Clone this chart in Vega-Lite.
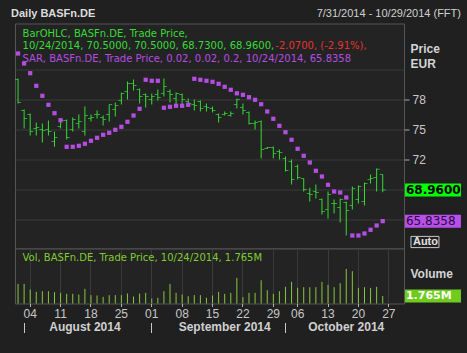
{
"$schema": "https://vega.github.io/schema/vega-lite/v6.json",
"background": "#202020",
"padding": {"left": 10, "top": 6.5, "right": 0, "bottom": 21},
"spacing": 0,
"bounds": "flush",
"config": {
 "view": {"stroke": "#555555", "fill": "#232323", "strokeWidth": 1},
 "axis": {"labelFont": "Liberation Sans", "titleFont": "Liberation Sans", "labelColor": "#c8c8c8", "titleColor": "#d4d4d4", "gridColor": "#3a3a3a", "gridOpacity": 1, "domain": false},
 "text": {"font": "DejaVu Sans"}
},
"datasets": {"bars": [
{"date":"2014-07-31","o":80.0,"h":80.1,"l":77.6,"c":77.7,"sar":82.6,"vol":4620000},
{"date":"2014-08-01","o":76.9,"h":77.0,"l":75.1,"c":76.1,"sar":81.6,"vol":4620000},
{"date":"2014-08-04","o":76.5,"h":76.6,"l":74.4,"c":74.8,"sar":80.63,"vol":3290000},
{"date":"2014-08-05","o":75.1,"h":75.7,"l":74.4,"c":75.2,"sar":79.37,"vol":2740000},
{"date":"2014-08-06","o":75.0,"h":75.6,"l":73.7,"c":74.9,"sar":78.37,"vol":2900000},
{"date":"2014-08-07","o":75.0,"h":75.9,"l":74.4,"c":74.8,"sar":77.47,"vol":2900000},
{"date":"2014-08-08","o":73.8,"h":74.8,"l":73.27,"c":74.2,"sar":76.63,"vol":2660000},
{"date":"2014-08-11","o":75.3,"h":76.0,"l":75.1,"c":75.9,"sar":75.93,"vol":2510000},
{"date":"2014-08-12","o":75.9,"h":76.0,"l":74.0,"c":74.2,"sar":73.27,"vol":2270000},
{"date":"2014-08-13","o":75.0,"h":76.2,"l":74.8,"c":76.0,"sar":73.27,"vol":2270000},
{"date":"2014-08-14","o":75.6,"h":76.5,"l":75.1,"c":75.8,"sar":73.37,"vol":2110000},
{"date":"2014-08-15","o":74.8,"h":77.3,"l":74.4,"c":76.4,"sar":73.57,"vol":3450000},
{"date":"2014-08-18","o":76.1,"h":76.5,"l":75.8,"c":76.2,"sar":73.87,"vol":1960000},
{"date":"2014-08-19","o":76.5,"h":76.9,"l":76.1,"c":76.5,"sar":74.17,"vol":1880000},
{"date":"2014-08-20","o":76.2,"h":76.4,"l":75.4,"c":76.0,"sar":74.47,"vol":1570000},
{"date":"2014-08-21","o":76.5,"h":77.5,"l":75.8,"c":77.5,"sar":74.67,"vol":1960000},
{"date":"2014-08-22","o":77.0,"h":77.7,"l":76.3,"c":77.4,"sar":74.97,"vol":1960000},
{"date":"2014-08-25","o":77.9,"h":78.7,"l":77.5,"c":78.6,"sar":75.27,"vol":1960000},
{"date":"2014-08-26","o":78.8,"h":79.8,"l":78.0,"c":79.6,"sar":75.77,"vol":2350000},
{"date":"2014-08-27","o":79.6,"h":80.0,"l":78.9,"c":79.4,"sar":76.4,"vol":1640000},
{"date":"2014-08-28","o":79.0,"h":79.1,"l":77.6,"c":78.3,"sar":77.07,"vol":2350000},
{"date":"2014-08-29","o":78.5,"h":78.6,"l":77.2,"c":78.3,"sar":79.97,"vol":2510000},
{"date":"2014-09-01","o":78.0,"h":78.6,"l":77.5,"c":78.3,"sar":79.87,"vol":1170000},
{"date":"2014-09-02","o":78.5,"h":79.0,"l":77.9,"c":78.2,"sar":79.87,"vol":1330000},
{"date":"2014-09-03","o":78.6,"h":80.1,"l":78.3,"c":79.3,"sar":77.17,"vol":2900000},
{"date":"2014-09-04","o":78.8,"h":79.0,"l":77.7,"c":78.5,"sar":77.27,"vol":4620000},
{"date":"2014-09-05","o":78.1,"h":78.7,"l":77.5,"c":78.6,"sar":77.37,"vol":2510000},
{"date":"2014-09-08","o":78.5,"h":78.6,"l":77.4,"c":78.0,"sar":77.37,"vol":2110000},
{"date":"2014-09-09","o":77.8,"h":78.1,"l":77.3,"c":77.6,"sar":77.47,"vol":1720000},
{"date":"2014-09-10","o":77.5,"h":78.0,"l":76.9,"c":77.4,"sar":80.07,"vol":1960000},
{"date":"2014-09-11","o":77.8,"h":77.9,"l":76.8,"c":77.1,"sar":79.97,"vol":1960000},
{"date":"2014-09-12","o":77.3,"h":77.6,"l":76.8,"c":77.2,"sar":79.87,"vol":1330000},
{"date":"2014-09-15","o":77.1,"h":77.3,"l":76.7,"c":76.9,"sar":79.77,"vol":1880000},
{"date":"2014-09-16","o":76.5,"h":76.6,"l":75.7,"c":76.2,"sar":79.57,"vol":2740000},
{"date":"2014-09-17","o":76.5,"h":76.8,"l":76.4,"c":76.6,"sar":79.27,"vol":2270000},
{"date":"2014-09-18","o":76.4,"h":76.8,"l":76.3,"c":76.6,"sar":78.97,"vol":2510000},
{"date":"2014-09-19","o":77.5,"h":78.1,"l":77.1,"c":78.0,"sar":78.62,"vol":6030000},
{"date":"2014-09-22","o":77.2,"h":77.6,"l":76.5,"c":76.9,"sar":78.47,"vol":1490000},
{"date":"2014-09-23","o":76.7,"h":76.8,"l":75.5,"c":75.6,"sar":78.23,"vol":2510000},
{"date":"2014-09-24","o":75.6,"h":75.9,"l":75.0,"c":75.7,"sar":77.97,"vol":2510000},
{"date":"2014-09-25","o":75.8,"h":75.9,"l":72.1,"c":73.0,"sar":77.53,"vol":5480000},
{"date":"2014-09-26","o":73.1,"h":73.25,"l":73.05,"c":73.2,"sar":76.8,"vol":3130000},
{"date":"2014-09-29","o":73.2,"h":73.3,"l":72.1,"c":72.6,"sar":76.07,"vol":2270000},
{"date":"2014-09-30","o":72.8,"h":73.0,"l":72.0,"c":72.7,"sar":75.37,"vol":2900000},
{"date":"2014-10-01","o":72.1,"h":72.3,"l":70.8,"c":70.9,"sar":74.73,"vol":3920000},
{"date":"2014-10-02","o":71.8,"h":72.0,"l":69.5,"c":70.0,"sar":73.97,"vol":5090000},
{"date":"2014-10-06","o":71.3,"h":71.5,"l":70.0,"c":70.2,"sar":73.07,"vol":3680000},
{"date":"2014-10-07","o":70.1,"h":70.13,"l":68.8,"c":69.0,"sar":72.37,"vol":3840000},
{"date":"2014-10-08","o":68.6,"h":69.17,"l":67.8,"c":68.5,"sar":71.7,"vol":3840000},
{"date":"2014-10-09","o":68.8,"h":69.5,"l":68.1,"c":68.7,"sar":70.87,"vol":3840000},
{"date":"2014-10-10","o":68.0,"h":68.1,"l":66.5,"c":66.8,"sar":70.3,"vol":5090000},
{"date":"2014-10-13","o":67.0,"h":68.8,"l":66.1,"c":68.5,"sar":69.47,"vol":4380000},
{"date":"2014-10-14","o":67.6,"h":68.0,"l":66.6,"c":67.6,"sar":68.8,"vol":3840000},
{"date":"2014-10-15","o":67.2,"h":68.1,"l":65.7,"c":68.0,"sar":68.7,"vol":4780000},
{"date":"2014-10-16","o":67.7,"h":67.8,"l":64.4,"c":66.9,"sar":68.2,"vol":8140000},
{"date":"2014-10-17","o":67.4,"h":69.3,"l":67.0,"c":69.1,"sar":64.4,"vol":7600000},
{"date":"2014-10-20","o":68.0,"h":69.4,"l":67.6,"c":69.3,"sar":64.4,"vol":3680000},
{"date":"2014-10-21","o":67.8,"h":69.7,"l":67.4,"c":69.6,"sar":64.6,"vol":3840000},
{"date":"2014-10-22","o":70.0,"h":70.5,"l":69.6,"c":70.1,"sar":64.97,"vol":3680000},
{"date":"2014-10-23","o":70.2,"h":71.1,"l":68.8,"c":71.03,"sar":65.4,"vol":3920000},
{"date":"2014-10-24","o":70.5,"h":70.5,"l":68.73,"c":68.96,"sar":65.8358,"vol":1765000}
]},
"vconcat": [
{
 "width": 389, "height": 225,
 "data": {"name": "bars"},
 "resolve": {"axis": {"y": "independent"}},
 "layer": [
  {"mark": {"type": "rule", "color": "#33dd33", "strokeWidth": 1},
   "encoding": {
    "x": {"field": "date", "type": "ordinal", "scale": {"type": "band", "paddingInner": 0, "paddingOuter": 0, "domain": ["2014-07-31","2014-08-01","2014-08-04","2014-08-05","2014-08-06","2014-08-07","2014-08-08","2014-08-11","2014-08-12","2014-08-13","2014-08-14","2014-08-15","2014-08-18","2014-08-19","2014-08-20","2014-08-21","2014-08-22","2014-08-25","2014-08-26","2014-08-27","2014-08-28","2014-08-29","2014-09-01","2014-09-02","2014-09-03","2014-09-04","2014-09-05","2014-09-08","2014-09-09","2014-09-10","2014-09-11","2014-09-12","2014-09-15","2014-09-16","2014-09-17","2014-09-18","2014-09-19","2014-09-22","2014-09-23","2014-09-24","2014-09-25","2014-09-26","2014-09-29","2014-09-30","2014-10-01","2014-10-02","2014-10-06","2014-10-07","2014-10-08","2014-10-09","2014-10-10","2014-10-13","2014-10-14","2014-10-15","2014-10-16","2014-10-17","2014-10-20","2014-10-21","2014-10-22","2014-10-23","2014-10-24","2014-10-27","2014-10-28","2014-10-29"]},
      "axis": {"values": ["2014-08-04","2014-08-11","2014-08-18","2014-08-25","2014-09-01","2014-09-08","2014-09-15","2014-09-22","2014-09-29","2014-10-06","2014-10-13","2014-10-20","2014-10-27"], "grid": true, "labels": false, "ticks": false, "domain": false, "title": null, "bandPosition": 0.5}},
    "y": {"field": "l", "type": "quantitative", "scale": {"domain": [63.1, 85.6], "nice": false, "zero": false},
      "axis": {"orient": "right", "values": [66, 69, 72, 75, 78, 81], "grid": true, "domain": false, "tickSize": 5,
        "tickColor": {"condition": {"test": "datum.value >= 72 && datum.value <= 78", "value": "#aaaaaa"}, "value": "transparent"},
        "labelExpr": "datum.value >= 72 && datum.value <= 78 ? datum.label : ''", "format": "d",
        "labelPadding": 3, "labelFontSize": 12,
        "title": ["Price", "EUR"], "titleAngle": 0, "titleAlign": "left", "titleBaseline": "alphabetic", "titleX": 6, "titleY": 29, "titleLineHeight": 15, "titleFontSize": 12, "titleFontWeight": "bold"}},
    "y2": {"field": "h"}
   }},
  {"mark": {"type": "tick", "color": "#33dd33", "size": 3, "thickness": 1, "xOffset": -1.5},
   "encoding": {
    "x": {"field": "date", "type": "ordinal", "axis": null},
    "y": {"field": "o", "type": "quantitative", "axis": null}
   }},
  {"mark": {"type": "tick", "color": "#33dd33", "size": 3, "thickness": 1, "xOffset": 1.5},
   "encoding": {
    "x": {"field": "date", "type": "ordinal", "axis": null},
    "y": {"field": "c", "type": "quantitative", "axis": null}
   }},
  {"mark": {"type": "square", "size": 18, "color": "#b34ee0", "opacity": 1},
   "encoding": {
    "x": {"field": "date", "type": "ordinal", "axis": null},
    "y": {"field": "sar", "type": "quantitative", "axis": null}
   }},
  {"transform": [{"filter": "datum.date == '2014-10-24'"}],
   "layer": [
    {"mark": {"type": "rule", "color": "#00ff00", "strokeWidth": 13, "strokeCap": "butt", "xOffset": 4, "x2Offset": 60},
     "encoding": {"x": {"datum": "2014-10-29", "type": "ordinal", "axis": null}, "x2": {"datum": "2014-10-29"}, "y": {"field": "c", "type": "quantitative", "axis": null}}},
    {"mark": {"type": "text", "align": "left", "baseline": "middle", "dx": 5, "font": "DejaVu Sans", "fontSize": 12, "fontWeight": "bold", "color": "#000000"},
     "encoding": {"x": {"datum": "2014-10-29", "type": "ordinal", "axis": null}, "y": {"field": "c", "type": "quantitative", "axis": null}, "text": {"field": "c", "type": "quantitative", "format": ".4f"}}},
    {"mark": {"type": "rule", "color": "#b84fe8", "strokeWidth": 13, "strokeCap": "butt", "xOffset": 4, "x2Offset": 60},
     "encoding": {"x": {"datum": "2014-10-29", "type": "ordinal", "axis": null}, "x2": {"datum": "2014-10-29"}, "y": {"field": "sar", "type": "quantitative", "axis": null}}},
    {"mark": {"type": "text", "align": "left", "baseline": "middle", "dx": 5, "font": "DejaVu Sans", "fontSize": 12, "color": "#2a0a40"},
     "encoding": {"x": {"datum": "2014-10-29", "type": "ordinal", "axis": null}, "y": {"field": "sar", "type": "quantitative", "axis": null}, "text": {"field": "sar", "type": "quantitative", "format": ".4f"}}}
   ]},
  {"data": {"values": [{}]},
   "mark": {"type": "text", "text": "BarOHLC, BASFn.DE, Trade Price,", "align": "left", "baseline": "middle", "dx": 4.5, "fontSize": 10, "color": "#33dd33"},
   "encoding": {"x": {"datum": "2014-07-31", "type": "ordinal", "axis": null}, "y": {"datum": 84.6, "type": "quantitative", "axis": null}}},
  {"data": {"values": [{}]},
   "mark": {"type": "text", "text": "10/24/2014, 70.5000, 70.5000, 68.7300, 68.9600,", "align": "left", "baseline": "middle", "dx": 4.5, "fontSize": 10, "color": "#33dd33"},
   "encoding": {"x": {"datum": "2014-07-31", "type": "ordinal", "axis": null}, "y": {"datum": 83.4, "type": "quantitative", "axis": null}}},
  {"data": {"values": [{}]},
   "mark": {"type": "text", "text": "-2.0700, (-2.91%),", "align": "left", "baseline": "middle", "dx": 2, "fontSize": 10, "color": "#e3342f"},
   "encoding": {"x": {"datum": "2014-09-29", "type": "ordinal", "axis": null}, "y": {"datum": 83.4, "type": "quantitative", "axis": null}}},
  {"data": {"values": [{}]},
   "mark": {"type": "text", "text": "SAR, BASFn.DE, Trade Price,   0.02, 0.02, 0.2, 10/24/2014, 65.8358", "align": "left", "baseline": "middle", "dx": 4.5, "fontSize": 10, "color": "#b34ee0"},
   "encoding": {"x": {"datum": "2014-07-31", "type": "ordinal", "axis": null}, "y": {"datum": 82.1, "type": "quantitative", "axis": null}}},
  {"data": {"values": [{}]},
   "mark": {"type": "text", "text": "Daily BASFn.DE", "align": "left", "baseline": "middle", "dx": -7, "font": "Liberation Sans", "fontSize": 11, "fontWeight": "bold", "color": "#dcdcdc"},
   "encoding": {"x": {"datum": "2014-07-31", "type": "ordinal", "axis": null}, "y": {"datum": 86.6, "type": "quantitative", "axis": null}}},
  {"data": {"values": [{}]},
   "mark": {"type": "text", "text": "7/31/2014 - 10/29/2014 (FFT)", "align": "right", "baseline": "middle", "dx": 60, "font": "Liberation Sans", "fontSize": 11, "color": "#d0d0d0"},
   "encoding": {"x": {"datum": "2014-10-29", "type": "ordinal", "axis": null}, "y": {"datum": 86.6, "type": "quantitative", "axis": null}}},
  {"data": {"values": [{}]},
   "mark": {"type": "point", "shape": "M-1,-0.4L1,-0.4L1,0.4L-1,0.4Z", "size": 784, "filled": false, "stroke": "#c8c8c8", "strokeWidth": 1, "opacity": 1, "xOffset": 24},
   "encoding": {"x": {"datum": "2014-10-29", "type": "ordinal", "axis": null}, "y": {"datum": 63.75, "type": "quantitative", "axis": null}}},
  {"data": {"values": [{}]},
   "mark": {"type": "text", "text": "Auto", "align": "left", "baseline": "middle", "dx": 12, "font": "Liberation Sans", "fontSize": 11, "fontWeight": "bold", "color": "#e0e0e0"},
   "encoding": {"x": {"datum": "2014-10-29", "type": "ordinal", "axis": null}, "y": {"datum": 63.75, "type": "quantitative", "axis": null}}}
 ]
},
{
 "width": 389, "height": 55,
 "data": {"name": "bars"},
 "resolve": {"axis": {"x": "independent"}},
 "layer": [
  {"mark": {"type": "rule", "color": "#86c83c", "strokeWidth": 1},
   "encoding": {
    "x": {"field": "date", "type": "ordinal", "scale": {"type": "band", "paddingInner": 0, "paddingOuter": 0, "domain": ["2014-07-31","2014-08-01","2014-08-04","2014-08-05","2014-08-06","2014-08-07","2014-08-08","2014-08-11","2014-08-12","2014-08-13","2014-08-14","2014-08-15","2014-08-18","2014-08-19","2014-08-20","2014-08-21","2014-08-22","2014-08-25","2014-08-26","2014-08-27","2014-08-28","2014-08-29","2014-09-01","2014-09-02","2014-09-03","2014-09-04","2014-09-05","2014-09-08","2014-09-09","2014-09-10","2014-09-11","2014-09-12","2014-09-15","2014-09-16","2014-09-17","2014-09-18","2014-09-19","2014-09-22","2014-09-23","2014-09-24","2014-09-25","2014-09-26","2014-09-29","2014-09-30","2014-10-01","2014-10-02","2014-10-06","2014-10-07","2014-10-08","2014-10-09","2014-10-10","2014-10-13","2014-10-14","2014-10-15","2014-10-16","2014-10-17","2014-10-20","2014-10-21","2014-10-22","2014-10-23","2014-10-24","2014-10-27","2014-10-28","2014-10-29"]},
      "axis": {"orient": "bottom", "values": ["2014-08-04","2014-08-11","2014-08-18","2014-08-25","2014-09-01","2014-09-08","2014-09-15","2014-09-22","2014-09-29","2014-10-06","2014-10-13","2014-10-20","2014-10-27"], "grid": true, "labelExpr": "slice(datum.value, 8)", "labelAngle": 0, "labelFontSize": 12, "labelPadding": 2, "labelDx": 1.5, "ticks": true, "tickSize": 3, "tickColor": "#b0b0b0", "domain": false, "title": null, "bandPosition": 0.5, "labelOverlap": false}},
    "y": {"field": "vol", "type": "quantitative", "scale": {"domain": [0, 12940000], "nice": false, "zero": true},
      "axis": {"orient": "right", "grid": false, "labels": false, "ticks": false, "domain": false, "title": "Volume", "titleAngle": 0, "titleAlign": "left", "titleBaseline": "alphabetic", "titleX": 6, "titleY": 29, "titleFontSize": 12, "titleFontWeight": "bold"}},
    "y2": {"datum": 0}
   }},
  {"transform": [{"filter": "datum.date == '2014-10-24'"}],
   "mark": {"type": "rule", "color": "#6fcc1e", "strokeWidth": 13, "strokeCap": "butt", "xOffset": 4, "x2Offset": 60},
   "encoding": {"x": {"datum": "2014-10-29", "type": "ordinal",
      "axis": {"orient": "bottom", "values": ["2014-08-15","2014-09-17","2014-10-16"], "labelExpr": "datum.value == '2014-08-15' ? 'August 2014' : datum.value == '2014-09-17' ? 'September 2014' : 'October 2014'", "ticks": false, "domain": false, "grid": false, "labelFontWeight": "bold", "labelFontSize": 12, "labelColor": "#d0d0d0", "offset": 18, "labelPadding": 0, "labelAngle": 0, "labelDx": 1, "labelBaseline": "top", "labelOverlap": false, "title": null, "bandPosition": 0.5}},
     "x2": {"datum": "2014-10-29"}, "y": {"field": "vol", "type": "quantitative"}}},
  {"transform": [{"filter": "datum.date == '2014-10-24'"}],
   "mark": {"type": "text", "align": "left", "baseline": "middle", "dx": 5, "font": "DejaVu Sans", "fontSize": 11, "fontWeight": "bold", "color": "#ffffff"},
   "encoding": {"x": {"datum": "2014-10-29", "type": "ordinal",
      "axis": {"orient": "bottom", "values": ["2014-08-01","2014-09-01","2014-10-01"], "labels": false, "ticks": true, "tickSize": 10, "tickColor": "#c8c8c8", "domain": false, "grid": false, "offset": 19, "title": null, "bandPosition": 0.5}},
     "y": {"field": "vol", "type": "quantitative"}, "text": {"field": "vol", "type": "quantitative", "format": ".4s"}}},
  {"data": {"values": [{}]},
   "mark": {"type": "text", "text": "Vol, BASFn.DE, Trade Price,  10/24/2014, 1.765M", "align": "left", "baseline": "middle", "dx": 4.5, "fontSize": 10, "color": "#80cc30"},
   "encoding": {"x": {"datum": "2014-07-31", "type": "ordinal", "axis": null}, "y": {"datum": 10590000, "type": "quantitative"}}}
 ]
}
]
}
